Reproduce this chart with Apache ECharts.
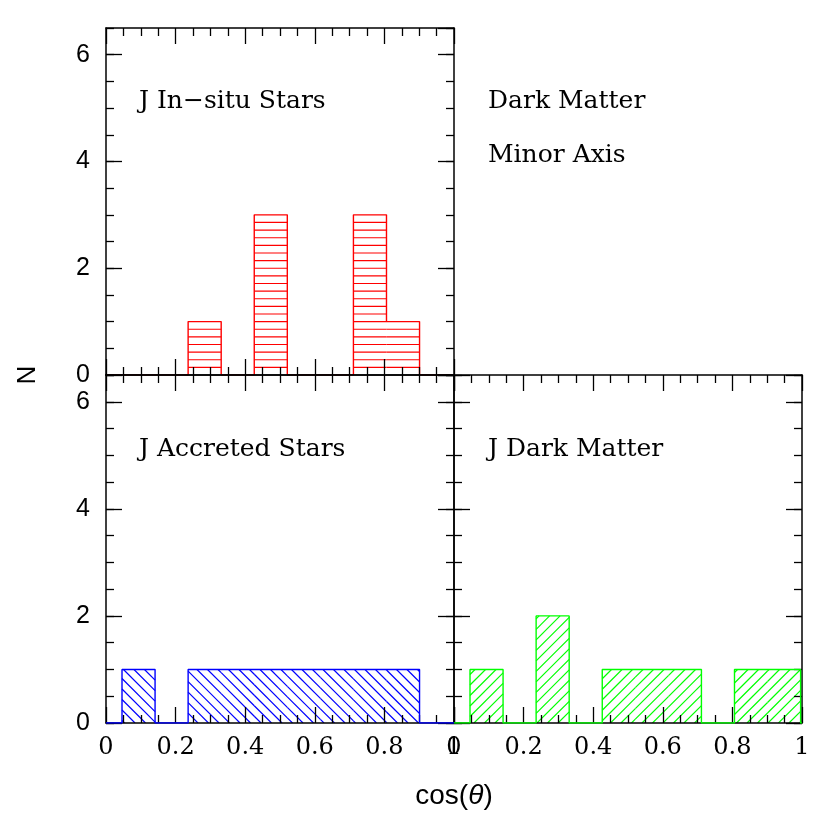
<!DOCTYPE html>
<html>
<head>
<meta charset="utf-8">
<script src="https://cdn.jsdelivr.net/npm/echarts@6/dist/echarts.min.js"></script>
<style>
html, body { margin: 0; padding: 0; background: #fff; }
#main { width: 830px; height: 830px; }
</style>
</head>
<body>
<div id="main"></div>
<script>
// bin edges in cos(theta), shared by the three histograms
var binEdges = [0.046, 0.141, 0.236, 0.331, 0.426, 0.521, 0.616, 0.711, 0.806, 0.901, 0.996];
var inSituCounts = [0, 0, 1, 0, 3, 0, 0, 3, 1, 0];
var accretedCounts = [1, 0, 1, 1, 1, 1, 1, 1, 1, 0];
var darkMatterCounts = [1, 0, 2, 0, 1, 1, 1, 0, 1, 1];
var panelLabels = ["J In\u2212situ Stars", "J Accreted Stars", "J Dark Matter"];
var sideLabels = ["Dark Matter", "Minor Axis"];

var BLACK = "#000";
var serif = "DejaVu Serif";
var sans = "Liberation Sans";

function binRows(counts) {
    var rows = [];
    for (var i = 0; i < counts.length; i++) {
        if (counts[i] > 0) rows.push([binEdges[i], binEdges[i + 1], counts[i]]);
    }
    return rows;
}

// step outline of a histogram, running along zero from 0 to 1
function outline(counts) {
    var pts = [[0, 0]], prev = 0;
    for (var i = 0; i < counts.length; i++) {
        pts.push([binEdges[i], prev]);
        pts.push([binEdges[i], counts[i]]);
        prev = counts[i];
    }
    pts.push([binEdges[counts.length], prev]);
    pts.push([binEdges[counts.length], 0]);
    pts.push([1, 0]);
    return pts;
}

function hatchRender(kind, color) {
    return function (params, api) {
        var p0 = api.coord([api.value(0), api.value(2)]);
        var p1 = api.coord([api.value(1), 0]);
        var x0 = p0[0], x1 = p1[0], y0 = p0[1], y1 = p1[1];
        var kids = [], st = {stroke: color, lineWidth: 1.2};
        if (kind == "h") {
            var sp = api.size([0, 1])[1] / 7;
            for (var y = y1 - sp; y > y0 + 0.5; y -= sp) {
                kids.push({type: "line", shape: {x1: x0, y1: y, x2: x1, y2: y}, style: st});
            }
        } else {
            var h = 10.5, c, xa, xb;
            var cmin = Math.floor((y0 - x1 - 2000) / h) * h;
            for (c = cmin; c < y1 + x1 + 2000; c += h) {
                if (kind == "b") { // "\"  y = x + c
                    xa = Math.max(x0, y0 - c); xb = Math.min(x1, y1 - c);
                    if (xa < xb) kids.push({type: "line", shape: {x1: xa, y1: xa + c, x2: xb, y2: xb + c}, style: st});
                } else { // "/"  y = c - x
                    xa = Math.max(x0, c - y1); xb = Math.min(x1, c - y0);
                    if (xa < xb) kids.push({type: "line", shape: {x1: xa, y1: c - xa, x2: xb, y2: c - xb}, style: st});
                }
            }
        }
        return {type: "group", children: kids};
    };
}

function xAxisDef(grid, pos, labels) {
    return {
        type: "value", gridIndex: grid, position: pos, min: 0, max: 1, interval: 0.2, z: 3,
        axisLine: {show: true, onZero: false, lineStyle: {color: BLACK, width: 1.5}},
        axisTick: {show: true, inside: true, length: 16, lineStyle: {color: BLACK, width: 1.3}},
        minorTick: {show: true, splitNumber: 4, length: 8, lineStyle: {color: BLACK, width: 1.3}},
        splitLine: {show: false},
        axisLabel: {show: labels, margin: 13, color: BLACK, fontFamily: serif, fontSize: 24}
    };
}

function yAxisDef(grid, pos, major, labels) {
    return {
        type: "value", gridIndex: grid, position: pos, min: 0, max: 6.5, interval: major ? 2 : 0.5, z: 3,
        axisLine: {show: major, onZero: false, lineStyle: {color: BLACK, width: 1.5}},
        axisTick: {show: true, inside: true, length: major ? 16 : 8, lineStyle: {color: BLACK, width: 1.3}},
        splitLine: {show: false},
        axisLabel: {show: labels, showMaxLabel: false, margin: 16, color: BLACK, fontFamily: sans, fontSize: 25}
    };
}

var grids = [
    {left: 106, top: 28, width: 348, height: 347},
    {left: 106, top: 375, width: 348, height: 348},
    {left: 454, top: 375, width: 348, height: 348}
];

var xAxes = [
    xAxisDef(0, "bottom", false), xAxisDef(0, "top", false),
    xAxisDef(1, "bottom", true), xAxisDef(1, "top", false),
    xAxisDef(2, "bottom", true), xAxisDef(2, "top", false)
];
var yAxes = [
    yAxisDef(0, "left", true, true), yAxisDef(0, "left", false, false),
    yAxisDef(0, "right", true, false), yAxisDef(0, "right", false, false),
    yAxisDef(1, "left", true, true), yAxisDef(1, "left", false, false),
    yAxisDef(1, "right", true, false), yAxisDef(1, "right", false, false),
    yAxisDef(2, "left", true, false), yAxisDef(2, "left", false, false),
    yAxisDef(2, "right", true, false), yAxisDef(2, "right", false, false)
];

var hists = [
    {counts: inSituCounts, color: "#ff0000", kind: "h", lineZ: 2},
    {counts: accretedCounts, color: "#0000ff", kind: "b", lineZ: 4},
    {counts: darkMatterCounts, color: "#00ff00", kind: "f", lineZ: 4}
];

var series = [];
hists.forEach(function (hst, g) {
    series.push({
        type: "custom", xAxisIndex: g * 2, yAxisIndex: g * 4, z: 1, clip: true,
        encode: {x: [0, 1], y: 2},
        renderItem: hatchRender(hst.kind, hst.color),
        data: binRows(hst.counts), silent: true
    });
    series.push({
        type: "line", xAxisIndex: g * 2, yAxisIndex: g * 4, z: hst.lineZ,
        showSymbol: false, clip: true, silent: true,
        lineStyle: {color: hst.color, width: 1.4},
        data: outline(hst.counts)
    });
});

var txt = function (s, x, y) {
    return {type: "text", x: x, y: y, style: {text: s, font: "25px '" + serif + "'", fill: BLACK, verticalAlign: "middle"}};
};

var chart = echarts.init(document.getElementById("main"), null, {renderer: "canvas"});
chart.setOption({
    backgroundColor: "#fff",
    animation: false,
    grid: grids,
    xAxis: xAxes,
    yAxis: yAxes,
    series: series,
    graphic: [
        txt(panelLabels[0], 139, 101),
        txt(sideLabels[0], 488, 101),
        txt(sideLabels[1], 488, 155),
        txt(panelLabels[1], 139, 449),
        txt(panelLabels[2], 488, 449),
        {type: "text", x: 28, y: 375, rotation: Math.PI / 2,
            style: {text: "N", font: "26px '" + sans + "'", fill: BLACK, align: "center", verticalAlign: "middle"}},
        {type: "text", x: 454, y: 796,
            style: {text: "cos({i|\u03b8})", font: "28px '" + sans + "'", fill: BLACK, align: "center", verticalAlign: "middle",
                rich: {i: {fontStyle: "italic", fontFamily: sans, fontSize: 28}}}}
    ]
});
</script>
</body>
</html>
